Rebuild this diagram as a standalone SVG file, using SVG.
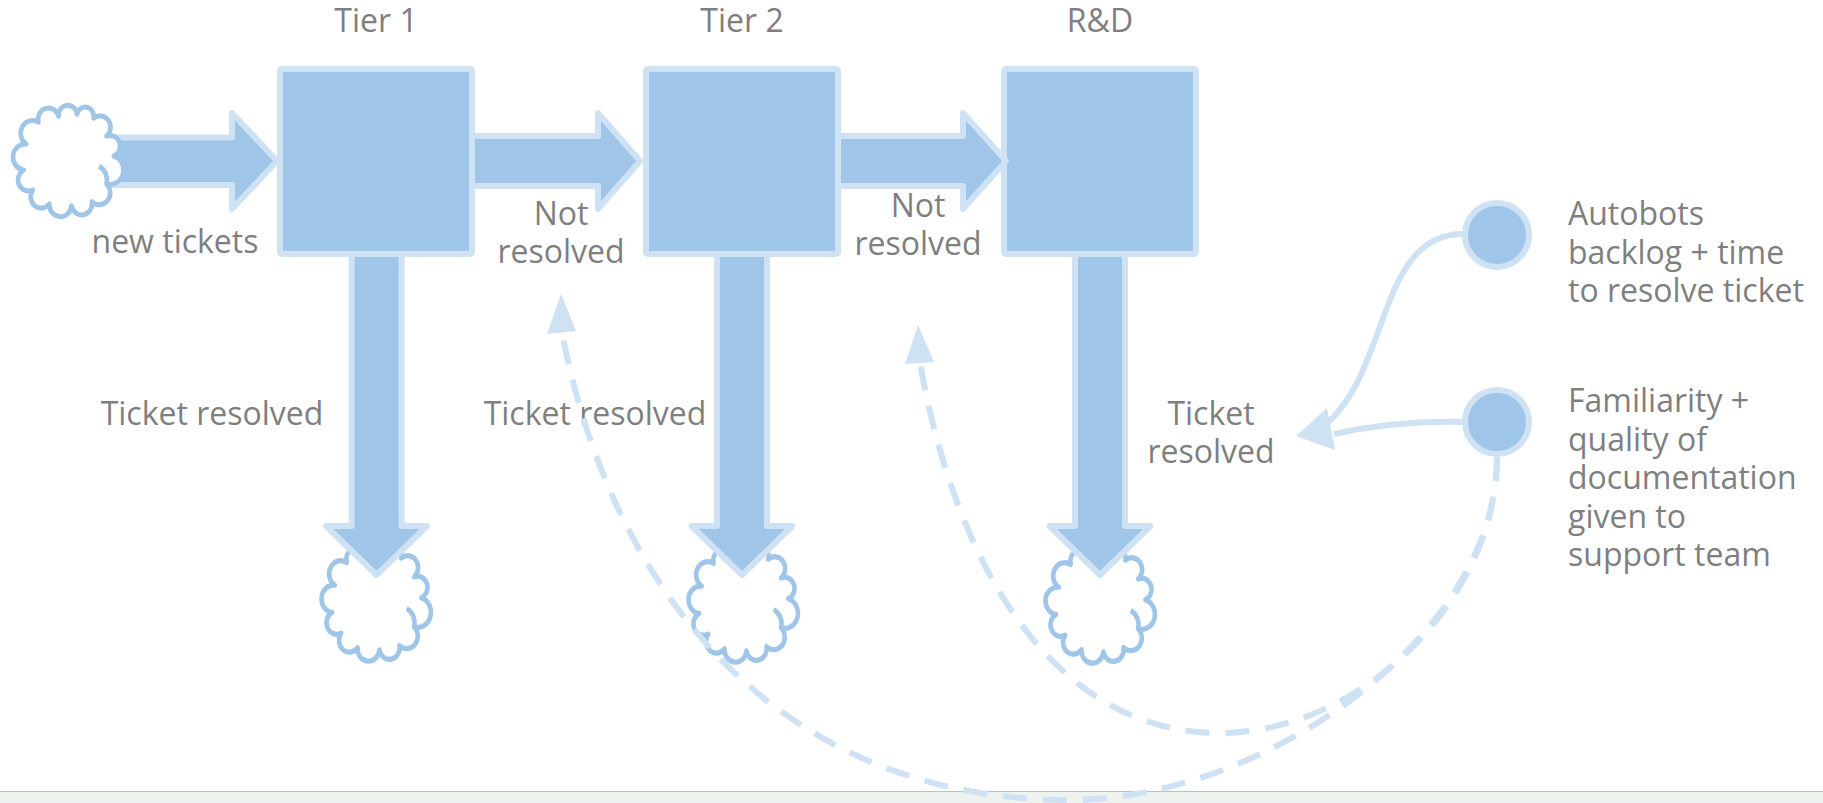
<svg xmlns="http://www.w3.org/2000/svg" width="1823" height="803" viewBox="0 0 1823 803">
  <style>
    .flow { fill: #9fc5e8; stroke: #cfe2f3; stroke-width: 6; stroke-linejoin: round; }
    .stock { fill: #9fc5e8; stroke: #cfe2f3; stroke-width: 6; }
    .cloud { fill: #ffffff; stroke: #9fc5e8; stroke-width: 4.6; stroke-linejoin: round; }
    .curl { fill: none; stroke: #9fc5e8; stroke-width: 4.6; }
    .link { fill: none; stroke: #cfe2f3; stroke-width: 6; }
    .dash { fill: none; stroke: #cfe2f3; stroke-width: 6; stroke-dasharray: 24 16; }
    .head { fill: #cfe2f3; }
    text { font-family: "Open Sans", "Liberation Sans", sans-serif; font-size: 32px; fill: #7f7f7f; }
    .mid { text-anchor: middle; }
  </style>
  <defs>
    <g id="cloud-shape">
      <path class="cloud" d="M -39.6,-16.6 A1 1 0 0 1 -27.6,-36.8 A1 1 0 0 1 -7.4,-42.3 A1 1 0 0 1 11,-44.2 A1 1 0 0 1 27.6,-40.5 A1 1 0 0 1 40.5,-23.9 A1 1 0 0 1 47.8,-5.5 A1 1 0 0 1 40.5,20.2 A1 1 0 0 1 25.8,36.8 A1 1 0 0 1 5.5,40.5 A1 1 0 0 1 -16.6,38.6 A1 1 0 0 1 -33.1,25.8 A1 1 0 0 1 -42.3,7.4 A1 1 0 0 1 -39.6,-16.6 Z"/>
      <path class="curl" d="M 33,4 A 14 14 0 0 1 40.5,20.2"/>
    </g>
  </defs>

  <rect width="1823" height="803" fill="#ffffff"/>
  <!-- bottom panel edge -->
  <rect x="0" y="791" width="1823" height="12" fill="#eef3ef"/>
  <line x1="0" y1="791.5" x2="1823" y2="791.5" stroke="#b5c7ba" stroke-width="1"/>

  <!-- sinks under the outflows -->
  <g id="sink-tier1"><use href="#cloud-shape" transform="translate(374,604) scale(0.99,1.13)"/></g>
  <g id="sink-tier2"><use href="#cloud-shape" transform="translate(741,605) scale(0.99,1.13)"/></g>
  <g id="sink-rnd"><use href="#cloud-shape" transform="translate(1098,606) scale(0.99,1.13)"/></g>

  <!-- stocks -->
  <g id="tier1">
    <rect class="stock" x="280" y="69" width="192" height="185" rx="2"/>
    <text class="mid" x="376" y="32">Tier 1</text>
  </g>
  <g id="tier2">
    <rect class="stock" x="646" y="69" width="192" height="185" rx="2"/>
    <text class="mid" x="742" y="32">Tier 2</text>
  </g>
  <g id="rnd">
    <rect class="stock" x="1004" y="69" width="192" height="185" rx="2"/>
    <text class="mid" x="1100" y="32">R&amp;D</text>
  </g>

  <!-- flows -->
  <g id="connectors">
    <g id="flow-new">
      <polygon class="flow" points="100,137.5 232,137.5 232,113 277,161 232,209 232,185 100,185"/>
      <text class="mid" x="175" y="253">new tickets</text>
    </g>
    <g id="flow-escalate-1">
      <polygon class="flow" points="472,136 598,136 598,113 640,161 598,209 598,186 472,186"/>
      <text class="mid" x="561" y="225">Not<tspan x="561" dy="38">resolved</tspan></text>
    </g>
    <g id="flow-escalate-2">
      <polygon class="flow" points="838,136 963,136 963,113 1006,161 963,209 963,186 838,186"/>
      <text class="mid" x="918" y="217">Not<tspan x="918" dy="38">resolved</tspan></text>
    </g>
    <g id="flow-resolved-1">
      <polygon class="flow" points="351.5,254 401.5,254 401.5,526 427,526 376.5,575 326,526 351.5,526"/>
      <text class="mid" x="212" y="425">Ticket resolved</text>
    </g>
    <g id="flow-resolved-2">
      <polygon class="flow" points="717,254 767,254 767,526 792.5,526 742,575 691.5,526 717,526"/>
      <text class="mid" x="595" y="425">Ticket resolved</text>
    </g>
    <g id="flow-resolved-3">
      <polygon class="flow" points="1075,254 1125,254 1125,526 1150.5,526 1100,575 1049.5,526 1075,526"/>
      <text class="mid" x="1211" y="425">Ticket<tspan x="1211" dy="38">resolved</tspan></text>
    </g>

    <!-- influence links -->
    <path class="link" d="M1463,234 C1425,234 1405,262 1390,300 C1372,345 1360,395 1326,424"/>
    <path class="link" d="M1463,422 C1420,421 1380,424 1334,434"/>
    <polygon class="head" points="1296,436 1327,408 1335,450"/>

    <path class="dash" d="M1497,457 C1497,600 1360,733 1220,733 C1050,733 955,560 920,363"/>
    <polygon class="head" points="918,325 905,364 934,362"/>
    <path class="dash" d="M1497,457 C1497,640 1260,800 1070,800 C800,800 620,620 563,338"/>
    <polygon class="head" points="561,294 547,334 576,331"/>
  </g>

  <!-- source cloud feeding Tier 1 -->
  <g id="source-new"><use href="#cloud-shape" transform="translate(66,162) scale(1.0,1.08)"/></g>

  <!-- auxiliary variables -->
  <g id="autobots">
    <circle class="stock" cx="1497" cy="235" r="32"/>
    <text x="1568" y="225">Autobots<tspan x="1568" dy="38.5">backlog + time</tspan><tspan x="1568" dy="38.5">to resolve ticket</tspan></text>
  </g>
  <g id="familiarity">
    <circle class="stock" cx="1497" cy="422" r="32"/>
    <text x="1568" y="412">Familiarity +<tspan x="1568" dy="38.5">quality of</tspan><tspan x="1568" dy="38.5">documentation</tspan><tspan x="1568" dy="38.5">given to</tspan><tspan x="1568" dy="38.5">support team</tspan></text>
  </g>
</svg>
